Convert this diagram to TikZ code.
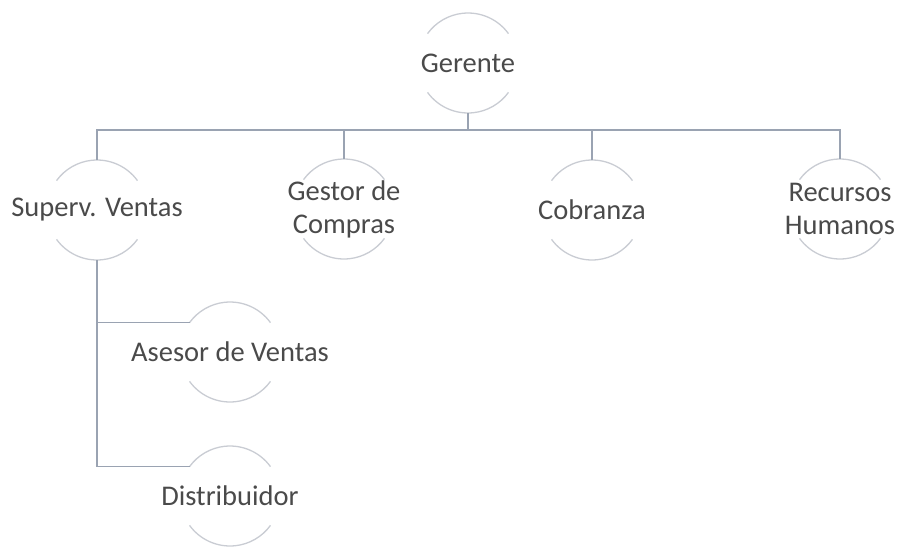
\documentclass[tikz,border=0pt]{standalone}
\usepackage{fontspec}
\setmainfont{Carlito}
\definecolor{arccol}{HTML}{C9CCD3}
\definecolor{linecol}{HTML}{9AA3B2}
\definecolor{txtcol}{HTML}{4A4A4A}
\tikzset{
  person/.style={circle, draw=none, inner sep=0pt, outer sep=0pt, minimum size=100pt,
    label={[text=txtcol, font=\fontsize{28.5}{33}\selectfont, align=center]center:#1}},
  halfarc/.style={draw=arccol, line width=1.3pt},
  conn/.style={draw=linecol, line width=1.3pt}
}
\newcommand{\arcs}[1]{%
  \draw[halfarc] (#1.36) arc (36:144:50pt);
  \draw[halfarc] (#1.216) arc (216:324:50pt);}
\begin{document}
\begin{tikzpicture}[x=1pt,y=1pt]
\useasboundingbox (0,0) rectangle (897,-549);
\node[person={Gerente}] (g) at (468,-63) {};
\node[person={Superv. Ventas}] (s) at (97,-210) {};
\node[person={Gestor de\\Compras}] (gc) at (344,-209) {};
\node[person={Cobranza}] (c) at (592,-210) {};
\node[person={Recursos\\Humanos}] (r) at (840,-209) {};
\node[person={Asesor de Ventas}] (a) at (230,-352) {};
\node[person={Distribuidor}] (d) at (230,-496) {};
\foreach \n in {g,s,gc,c,r,a,d}{\arcs{\n}}
\coordinate (bus) at (468,-130);
\draw[conn] (g.270) -- (bus);
\draw[conn] (s.90) |- (bus) -| (r.90);
\draw[conn] (gc.90) -- (gc.90 |- bus);
\draw[conn] (c.90) -- (c.90 |- bus);
\draw[conn] (s.270) |- (a.144);
\draw[conn] (s.270) |- (d.144);
\end{tikzpicture}
\end{document}
